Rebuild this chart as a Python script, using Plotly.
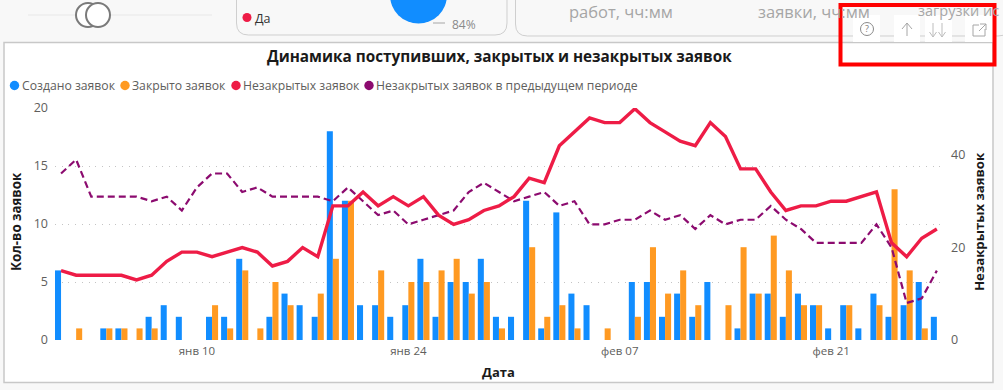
import plotly.graph_objects as go
import pandas as pd

dates = pd.date_range("2021-01-01", periods=59).strftime("%Y-%m-%d").tolist()
created = [6,0,0,1,1,0,2,3,2,0,2,2,7,0,2,4,3,2,18,12,3,3,2,3,7,2,5,5,7,2,2,12,1,11,4,3,0,0,5,5,2,4,2,5,0,1,4,4,2,4,3,1,3,1,4,2,3,5,2]
closed = [0,1,0,1,1,1,1,0,0,0,3,1,6,1,5,3,0,4,7,12,0,6,0,5,5,6,7,4,5,1,0,8,2,3,1,0,1,0,2,8,4,6,3,0,3,8,4,9,6,3,3,0,3,0,3,13,6,1,0]
open_now = [15,14,14,14,14,13,14,17,19,19,18,19,20,19,16,17,20,18,29,29,32,29,31,29,31,27,25,26,28,29,31,35,34,42,45,48,47,47,50,47,45,43,42,47,44,37,37,32,28,29,29,30,30,31,32,21,18,22,24]
open_prev = [36,39,31,31,31,31,30,31,28,33,36,36,32,33,31,31,31,31,30,33,30,27,28,25,26,27,28,32,34,32,30,31,32,29,30,25,25,26,26,28,26,27,24,27,25,26,26,29,26,24,21,21,21,21,25,20,8,9,15]
series_names = ["Создано заявок", "Закрыто заявок", "Незакрытых заявок", "Незакрытых заявок в предыдущем периоде"]
tick_dates = ["2021-01-10", "2021-01-24", "2021-02-07", "2021-02-21"]
tick_labels = ["янв 10", "янв 24", "фев 07", "фев 21"]

BLUE, ORANGE, RED, PURPLE = "#118DFF", "#FF9A22", "#EE1C46", "#8C0B6F"
FONT = "Open Sans"
GREY = "#605E5C"
W, H = 1003, 390
X = lambda v: v / W
Y = lambda v: 1 - v / H

fig = go.Figure()
fig.add_bar(x=dates, y=created, name=series_names[0], marker=dict(color=BLUE, line_width=0), yaxis="y")
fig.add_bar(x=dates, y=closed, name=series_names[1], marker=dict(color=ORANGE, line_width=0), yaxis="y")
fig.add_scatter(x=dates, y=open_prev, name=series_names[3], mode="lines", yaxis="y2",
                line=dict(color=PURPLE, width=2.2, dash="7px,4px"))
fig.add_scatter(x=dates, y=open_now, name=series_names[2], mode="lines", yaxis="y2",
                line=dict(color=RED, width=3.4))

shapes, notes = [], []
def rect(x0, y0, x1, y1, fill="rgba(0,0,0,0)", line="rgba(0,0,0,0)", w=1, layer="below"):
    shapes.append(dict(type="rect", xref="paper", yref="paper", x0=X(x0), x1=X(x1), y0=Y(y0), y1=Y(y1),
                       fillcolor=fill, line=dict(color=line, width=w), layer=layer))
def circle(cx, cy, r, fill="rgba(0,0,0,0)", line="rgba(0,0,0,0)", w=0, layer="below"):
    shapes.append(dict(type="circle", xref="paper", yref="paper", x0=X(cx-r), x1=X(cx+r), y0=Y(cy-r), y1=Y(cy+r),
                       fillcolor=fill, line=dict(color=line, width=w), layer=layer))
def seg(x0, y0, x1, y1, color="#A6A6A6", w=1, layer="above"):
    shapes.append(dict(type="line", xref="paper", yref="paper", x0=X(x0), x1=X(x1), y0=Y(y0), y1=Y(y1),
                       line=dict(color=color, width=w), layer=layer))
def rrect(x0, y0, x1, y1, r):
    p = (f"M{X(x0)},{Y(y0)} L{X(x0)},{Y(y1-r)} Q{X(x0)},{Y(y1)} {X(x0+r)},{Y(y1)} "
         f"L{X(x1-r)},{Y(y1)} Q{X(x1)},{Y(y1)} {X(x1)},{Y(y1-r)} L{X(x1)},{Y(y0)}")
    shapes.append(dict(type="path", xref="paper", yref="paper", path=p,
                       line=dict(color="#CFCFCF", width=1), fillcolor="rgba(0,0,0,0)", layer="below"))
def text(x, y, s, size=12, color=GREY, anchor="left", bold=False, angle=0):
    notes.append(dict(xref="paper", yref="paper", x=X(x), y=Y(y), text=f"<b>{s}</b>" if bold else s,
                      showarrow=False, xanchor=anchor, yanchor="middle", textangle=angle,
                      font=dict(family=FONT, size=size, color=color)))

# dashboard chrome around the chart
rect(4, 42.5, 993, 382.5, fill="#FFFFFF", line="#C8C8C8", w=1.5)
seg(28, 15, 212, 15, color="#F0F0F0", w=2, layer="below")
circle(88, 15, 12, fill="#FFFFFF", line="#7A7A7A", w=2)
circle(98, 15, 12, fill="#FFFFFF", line="#7A7A7A", w=2)
rrect(236.5, -5, 507, 35, 12)
rrect(515.5, -5, 1010, 36, 12)
circle(418.5, -5, 28.5, fill=BLUE)
seg(433, 23, 445, 23)
text(450, 24, "84%", size=12, color="#8A8A8A")
circle(247, 17.5, 4.5, fill=RED)
text(253, 18.5, "Да", size=12.5, color="#333333")
text(567, 11, "работ, чч:мм", size=16.5, color="#A6A6A6")
text(756, 11, "заявки, чч:мм", size=16.5, color="#A6A6A6")
text(916, 10, "загрузки ис", size=14.5, color="#A6A6A6")

# visual-header icons
for a, b in [(853, 880), (894, 920), (925, 952), (965, 993)]:
    rect(a, 15, b, 42, fill="#FFFFFF", layer="above")
circle(867, 29, 6.5, line="#8A8A8A", w=1, layer="above")
text(867, 29, "?", size=9, color="#7A7A7A", anchor="center")
seg(907, 36, 907, 23); seg(907, 23, 902, 29); seg(907, 23, 912, 29)
for c in (933, 942):
    seg(c, 23, c, 37, color="#BDBDBD"); seg(c, 37, c-3.5, 32, color="#BDBDBD"); seg(c, 37, c+3.5, 32, color="#BDBDBD")
rect(973, 25, 985, 36, line="#A6A6A6", layer="above")
rect(979, 22, 986.5, 29, fill="#FFFFFF", layer="above")
seg(980, 24, 986, 24); seg(986, 24, 986, 30); seg(986, 24, 979, 31)
rect(840.5, 5, 994.5, 64.5, line="#FF0000", w=4, layer="above")

# chart title, axis titles, legend
text(499.5, 56, "Динамика поступивших, закрытых и незакрытых заявок", size=15.3, color="#1A1A1A", anchor="center", bold=True)
for x0, col, name in [(14.5, BLUE, series_names[0]), (125, ORANGE, series_names[1]),
                      (236, RED, series_names[2]), (369, PURPLE, series_names[3])]:
    circle(x0, 85.5, 4.7, fill=col)
    text(x0 + 5, 85.5, name, size=12.2, color=GREY)
text(16, 222, "Кол-во заявок", size=13.3, color="#1A1A1A", anchor="center", bold=True, angle=-90)
text(979, 222, "Незакрытых заявок", size=13.2, color="#1A1A1A", anchor="center", bold=True, angle=-90)
text(498, 372, "Дата", size=13, color="#1A1A1A", anchor="center", bold=True)

fig.update_layout(
    width=W, height=H, autosize=False, margin=dict(l=0, r=0, t=0, b=0, pad=0),
    paper_bgcolor="#F8F8F8", plot_bgcolor="rgba(0,0,0,0)", showlegend=False,
    barmode="group", bargap=0.2, bargroupgap=0,
    font=dict(family=FONT, size=12, color=GREY),
    shapes=shapes, annotations=notes,
    xaxis=dict(type="date", domain=[X(55), X(942)], range=["2020-12-31 14:24", "2021-02-28 08:10"],
               tickmode="array", tickvals=tick_dates, ticktext=tick_labels, showgrid=False, zeroline=False,
               showline=False, ticks="", ticklen=0, automargin=False, tickfont=dict(size=11.5, color=GREY),
               ticklabelstandoff=2, anchor="y"),
    yaxis=dict(domain=[Y(340), Y(108)], range=[0, 20], tickvals=[0, 5, 10, 15, 20], showgrid=True,
               gridcolor="#C4C4C4", griddash="1px,5.7px", gridwidth=1, zeroline=False, showline=False,
               automargin=False, ticks="", tickfont=dict(size=12.5, color=GREY), ticklabelstandoff=6, anchor="x"),
    yaxis2=dict(domain=[Y(340), Y(108)], range=[0, 50.16], tickvals=[0, 20, 40], overlaying="y", side="right",
                showgrid=False, zeroline=False, showline=False, automargin=False, ticks="",
                tickfont=dict(size=12.5, color=GREY), ticklabelstandoff=8, anchor="x"),
)
fig.write_html("out.html", config=dict(displayModeBar=False, responsive=False),
               post_script="document.body.style.margin='0';document.documentElement.style.background='#F8F8F8';")
